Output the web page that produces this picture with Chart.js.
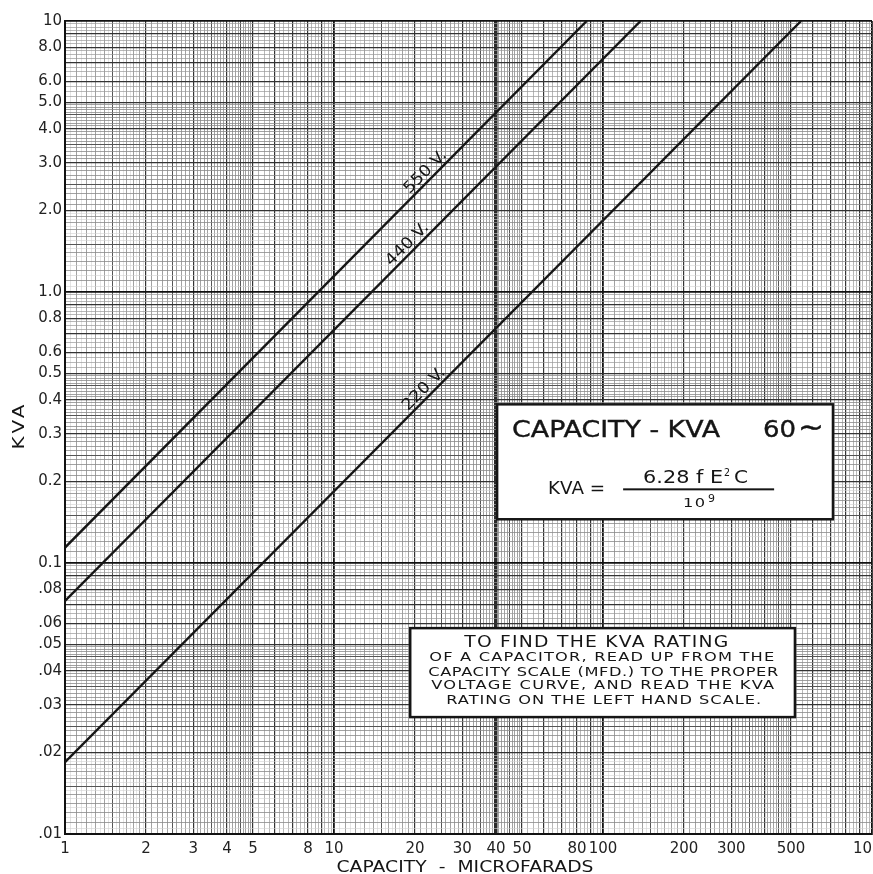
<!DOCTYPE html>
<html>
<head>
<meta charset="utf-8">
<title>Capacity - KVA 60~</title>
<script src="https://cdn.jsdelivr.net/npm/chart.js@4.4.1/dist/chart.umd.min.js"></script>
<style>
  html, body { margin: 0; padding: 0; background: #fff; }
  #wrap { width: 873px; height: 874px; position: relative; }
</style>
</head>
<body>
<div id="wrap"><canvas id="kvaChart"></canvas></div>
<script>
// values: capacity (mfd) at both ends of each voltage line, and the kva there
var cap550 = [1, 87];
var kva550 = [0.114, 10];
var cap440 = [1, 138];
var kva440 = [0.0725, 10];
var cap220 = [1, 545];
var kva220 = [0.0184, 10];

var voltLabels = ['550 V.', '440 V.', '220 V.'];
var voltLabelAt = [23, 19.7, 22.7];   // capacity where each curve is lettered

var xTickValues = [1, 2, 3, 4, 5, 8, 10, 20, 30, 40, 50, 80, 100, 200, 300, 500, 1000];
var yTickValues = [10, 8, 6, 5, 4, 3, 2, 1, 0.8, 0.6, 0.5, 0.4, 0.3, 0.2, 0.1, 0.08, 0.06, 0.05, 0.04, 0.03, 0.02, 0.01];
var yTickText = ['10', '8.0', '6.0', '5.0', '4.0', '3.0', '2.0', '1.0', '0.8', '0.6', '0.5', '0.4', '0.3', '0.2', '0.1', '.08', '.06', '.05', '.04', '.03', '.02', '.01'];

var FONT = '"DejaVu Sans", "Liberation Sans", sans-serif';

// lines of the log paper, one decade at a time
function paperLines(lo, hi) {
    var out = [];
    for (var d = lo; d < hi * 0.999; d *= 10) {
        for (var m = 100; m < 1000; m += (m < 200 ? 5 : m < 500 ? 10 : 25)) {
            out.push(+(d * m / 100).toPrecision(6));
        }
    }
    out.push(hi);
    return out;
}

function lineStyle(v) {
    var e = Math.floor(Math.log10(v) + 1e-9);
    var m = Math.round(v / Math.pow(10, e) * 100);
    if (m === 100) return ['#111', 1.8];
    if (Math.abs(v - 40) < 1e-6) return ['#2a2a2a', 3.5];
    if (m % 100 === 0) return ['#333', 1.2];
    if (m % 50 === 0 && m < 500) return ['#555', 1];
    if (m % 10 === 0 && m < 500) return ['#8a8a8a', 0.8];
    if (m >= 500) return ['#9a9a9a', 0.7];
    return ['#d2d2d2', 0.6];
}

function findIndex(list, v) {
    for (var i = 0; i < list.length; i++) {
        if (Math.abs(list[i] - v) / list[i] < 1e-6) return i;
    }
    return -1;
}

// lettering stretched to the width it has on the sheet: widen the glyphs a bit, space the rest
function fitText(ctx, text, x, y, width, font, heavy) {
    ctx.font = font;
    ctx.letterSpacing = '0px';
    var w = ctx.measureText(text).width;
    var n = Array.from(text).length;
    var sx = Math.max(0.85, Math.min(1.25, width / w));
    var s = n > 1 ? (width / sx - w) / (n - 1) : 0;
    ctx.save();
    ctx.translate(x, y);
    ctx.scale(sx, 1);
    ctx.letterSpacing = s + 'px';
    ctx.fillText(text, 0, 0);
    if (heavy) {
        ctx.lineWidth = heavy;
        ctx.strokeStyle = ctx.fillStyle;
        ctx.strokeText(text, 0, 0);
    }
    ctx.restore();
    ctx.letterSpacing = '0px';
}

var notes = {
    id: 'notes',
    afterDatasetsDraw: function(chart) {
        var ctx = chart.ctx;
        var x = chart.scales.x, y = chart.scales.y;
        var area = chart.chartArea;
        ctx.save();
        ctx.fillStyle = '#151515';
        ctx.textAlign = 'left';
        ctx.textBaseline = 'alphabetic';

        // curve letters
        chart.data.datasets.forEach(function(ds, i) {
            var a = ds.data[0], b = ds.data[1];
            var p1x = x.getPixelForValue(a.x), p1y = y.getPixelForValue(a.y);
            var p2x = x.getPixelForValue(b.x), p2y = y.getPixelForValue(b.y);
            var ang = Math.atan2(p2y - p1y, p2x - p1x);
            var slope = Math.log(b.y / a.y) / Math.log(b.x / a.x);
            var c = voltLabelAt[i];
            var k = a.y * Math.pow(c / a.x, slope);
            var px = x.getPixelForValue(c), py = y.getPixelForValue(k);
            ctx.save();
            ctx.translate(px + Math.sin(ang) * 4, py - Math.cos(ang) * 4);
            ctx.rotate(ang);
            fitText(ctx, voltLabels[i], -27, 0, 54, '16px ' + FONT);
            ctx.restore();
        });

        // title box
        var bx = x.getPixelForValue(40.4), by = y.getPixelForValue(0.385);
        var bw = x.getPixelForValue(716) - bx, bh = y.getPixelForValue(0.145) - by;
        ctx.fillStyle = '#fff';
        ctx.fillRect(bx, by, bw, bh);
        ctx.strokeStyle = '#151515';
        ctx.lineWidth = 2.5;
        ctx.strokeRect(bx, by, bw, bh);
        ctx.fillStyle = '#151515';
        fitText(ctx, 'CAPACITY - KVA', bx + 15, by + 33, 208, '23px ' + FONT, 0.4);
        fitText(ctx, '60', bx + 266, by + 33, 33, '23px ' + FONT, 0.4);
        fitText(ctx, '\u223c', bx + 301, by + 33, 26, '30px ' + FONT, 0.4);
        fitText(ctx, 'KVA =', bx + 51, by + 90, 57, '17px ' + FONT);
        fitText(ctx, '6.28 f E', bx + 146, by + 79, 80, '17px ' + FONT);
        fitText(ctx, '2', bx + 227, by + 72, 6, '11px ' + FONT);
        fitText(ctx, 'C', bx + 237, by + 79, 14, '17px ' + FONT);
        ctx.fillRect(bx + 126, by + 84, 151, 2);
        fitText(ctx, '10', bx + 186, by + 103, 22, '13px ' + FONT);
        fitText(ctx, '9', bx + 211, by + 98, 7, '10px ' + FONT);

        // instruction box
        var ix = x.getPixelForValue(19.2), iy = y.getPixelForValue(0.0575);
        var iw = x.getPixelForValue(517) - ix, ih = y.getPixelForValue(0.027) - iy;
        ctx.fillStyle = '#fff';
        ctx.fillRect(ix, iy, iw, ih);
        ctx.lineWidth = 2.5;
        ctx.strokeRect(ix, iy, iw, ih);
        ctx.fillStyle = '#151515';
        fitText(ctx, 'TO FIND THE KVA RATING', ix + 54, iy + 19, 264, '15px ' + FONT);
        fitText(ctx, 'OF A CAPACITOR, READ UP FROM THE', ix + 19, iy + 33, 345, '13px ' + FONT);
        fitText(ctx, 'CAPACITY SCALE (MFD.) TO THE PROPER', ix + 18, iy + 48, 350, '13px ' + FONT);
        fitText(ctx, 'VOLTAGE CURVE, AND READ THE KVA', ix + 21, iy + 61, 343, '13px ' + FONT);
        fitText(ctx, 'RATING ON THE LEFT HAND SCALE.', ix + 36, iy + 76, 315, '13px ' + FONT);

        // axis titles
        var mid = (area.left + area.right) / 2;
        fitText(ctx, 'CAPACITY  -  MICROFARADS', mid - 132, 872, 257, '15px ' + FONT);
        ctx.save();
        ctx.translate(24, (area.top + area.bottom) / 2 + 22);
        ctx.rotate(-Math.PI / 2);
        fitText(ctx, 'KVA', 0, 0, 45, '16px ' + FONT);
        ctx.restore();
        ctx.restore();
    }
};

function points(xs, ys) {
    return xs.map(function(v, i) { return { x: v, y: ys[i] }; });
}

document.addEventListener('DOMContentLoaded', function() {
    var ctxKva = document.getElementById('kvaChart').getContext('2d');

    var xLines = paperLines(1, 1000);
    var yLines = paperLines(0.01, 10);

    var lineDefaults = { showLine: true, pointRadius: 0, borderColor: '#161616', borderWidth: 2.4, fill: false };

    var kvaChart = new Chart(ctxKva, {
        type: 'scatter',
        data: {
            datasets: [
                Object.assign({ label: '550 V.', data: points(cap550, kva550) }, lineDefaults),
                Object.assign({ label: '440 V.', data: points(cap440, kva440) }, lineDefaults),
                Object.assign({ label: '220 V.', data: points(cap220, kva220) }, lineDefaults)
            ]
        },
        options: {
            responsive: true,
            maintainAspectRatio: false,
            animation: false,
            layout: { padding: { top: 21, right: 1, bottom: 0, left: 0 } },
            scales: {
                x: {
                    type: 'logarithmic',
                    min: 1,
                    max: 1000,
                    afterBuildTicks: function(scale) {
                        scale.ticks = xLines.map(function(v) { return { value: v }; });
                    },
                    afterFit: function(scale) {
                        scale.height = 40;
                        scale.paddingLeft = 0;
                        scale.paddingRight = 0;
                    },
                    ticks: {
                        autoSkip: false,
                        maxRotation: 0,
                        padding: 6,
                        color: '#222',
                        font: { family: FONT, size: 15 },
                        callback: function(value) {
                            return findIndex(xTickValues, value) >= 0 ? String(value) : '';
                        }
                    },
                    grid: {
                        drawTicks: false,
                        color: function(c) { return lineStyle(c.tick.value)[0]; },
                        lineWidth: function(c) { return lineStyle(c.tick.value)[1]; }
                    },
                    border: { color: '#111', width: 2 }
                },
                y: {
                    type: 'logarithmic',
                    min: 0.01,
                    max: 10,
                    afterBuildTicks: function(scale) {
                        scale.ticks = yLines.map(function(v) { return { value: v }; });
                    },
                    afterFit: function(scale) {
                        scale.width = 65;
                        scale.paddingTop = 0;
                        scale.paddingBottom = 0;
                    },
                    ticks: {
                        autoSkip: false,
                        padding: 3,
                        color: '#222',
                        font: { family: FONT, size: 15 },
                        callback: function(value) {
                            var i = findIndex(yTickValues, value);
                            return i >= 0 ? yTickText[i] : '';
                        }
                    },
                    grid: {
                        drawTicks: false,
                        color: function(c) { return lineStyle(c.tick.value)[0]; },
                        lineWidth: function(c) { return lineStyle(c.tick.value)[1]; }
                    },
                    border: { color: '#111', width: 2 }
                }
            },
            plugins: {
                legend: { display: false },
                tooltip: { enabled: false }
            }
        },
        plugins: [notes]
    });
});
</script>
</body>
</html>
